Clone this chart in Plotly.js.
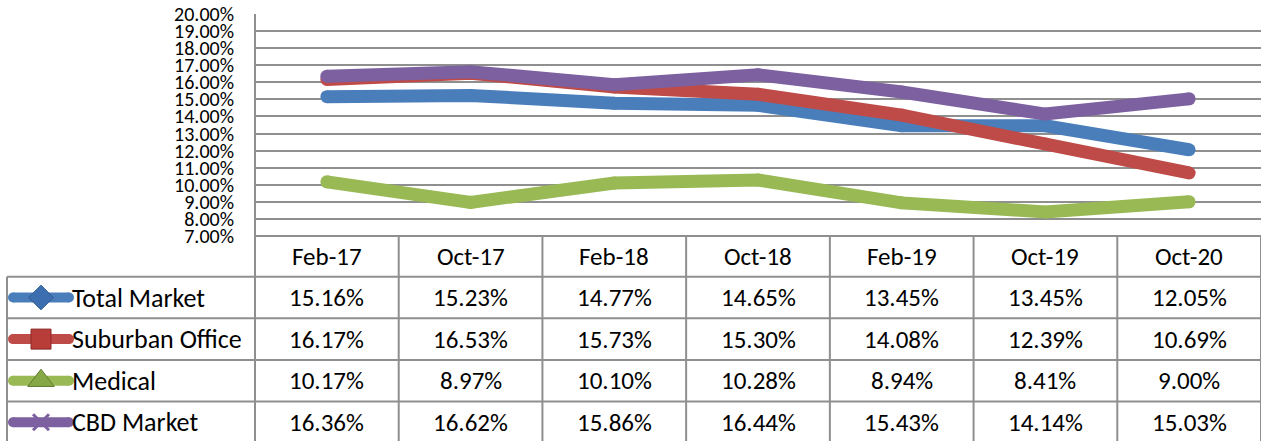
<!DOCTYPE html>
<html>
<head>
<meta charset="utf-8">
<script src="https://cdn.plot.ly/plotly-3.0.1.min.js"></script>
<style>
  html, body { margin: 0; padding: 0; background: #fff; }
  #chart { width: 1266px; height: 441px; }
</style>
</head>
<body>
<div id="chart"></div>
<script>
// ---- Data ----
const categories = ['Feb-17', 'Oct-17', 'Feb-18', 'Oct-18', 'Feb-19', 'Oct-19', 'Oct-20'];
const seriesNames = ['Total Market', 'Suburban Office', 'Medical', 'CBD Market'];
const totalMarket    = [15.16, 15.23, 14.77, 14.65, 13.45, 13.45, 12.05];
const suburbanOffice = [16.17, 16.53, 15.73, 15.30, 14.08, 12.39, 10.69];
const medical        = [10.17, 8.97, 10.10, 10.28, 8.94, 8.41, 9.00];
const cbdMarket      = [16.36, 16.62, 15.86, 16.44, 15.43, 14.14, 15.03];
const yTickValues = [7, 8, 9, 10, 11, 12, 13, 14, 15, 16, 17, 18, 19, 20];

// ---- Styling ----
const W = 1266, H = 441;
const FONT = 'Carlito, Calibri, Lato, sans-serif';
const seriesValues = [totalMarket, suburbanOffice, medical, cbdMarket];
const colors = ['#4a7ebb', '#be4b48', '#98b954', '#7d60a0'];
const markerColors = ['#3d6fb0', '#b83c38', '#86a846', '#7d60a0'];
const markerLine = ['#2f5d91', '#8c2b28', '#5f7a2d', '#5e4680'];
const markerSymbols = ['diamond', 'square', 'triangle-up', 'x-thin'];
const markerSizes = [19, 20, 23, 16];
const gridColor = '#8f8f8f';

// geometry (pixels)
const plotLeft = 255, plotRight = 1261, plotTop = 14, plotBottom = 236;
const tableLeft = 7;
const rowH = 41.6;
const headerBottom = plotBottom + 40.7;
const rowCenters = seriesNames.map((_, i) => headerBottom + rowH * (i + 0.5));
const headerCenter = (plotBottom + headerBottom) / 2;

const traces = [];
seriesValues.forEach((vals, i) => {
  traces.push({
    type: 'scatter', mode: 'lines+markers',
    x: categories.map((_, k) => k),
    y: vals,
    name: seriesNames[i],
    line: { color: colors[i], width: 13 },
    marker: { color: colors[i], size: 13, line: { width: 0 } },
    xaxis: 'x', yaxis: 'y', showlegend: false, hoverinfo: 'skip'
  });
});

// legend keys inside the table (pixel axes x2/y2)
seriesNames.forEach((n, i) => {
  traces.push({
    type: 'scatter', mode: 'lines',
    x: [13, 69], y: [rowCenters[i], rowCenters[i]],
    line: { color: colors[i], width: 10 },
    xaxis: 'x2', yaxis: 'y2', showlegend: false, hoverinfo: 'skip'
  });
  traces.push({
    type: 'scatter', mode: 'markers',
    x: [13, 69], y: [rowCenters[i], rowCenters[i]],
    marker: { color: colors[i], size: 10 },
    xaxis: 'x2', yaxis: 'y2', showlegend: false, hoverinfo: 'skip'
  });
  traces.push({
    type: 'scatter', mode: 'markers',
    x: [41], y: [rowCenters[i]],
    marker: {
      symbol: markerSymbols[i], size: markerSizes[i], color: markerColors[i],
      line: { color: i === 3 ? markerColors[i] : markerLine[i], width: i === 3 ? 3 : 1 }
    },
    xaxis: 'x2', yaxis: 'y2', showlegend: false, hoverinfo: 'skip'
  });
});

const lineStyle = { color: gridColor, width: 2 };
const shapes = [];
// horizontal table lines
shapes.push({ type: 'line', xref: 'x2', yref: 'y2', x0: plotLeft, x1: plotRight, y0: plotBottom, y1: plotBottom, line: lineStyle });
for (let r = 0; r <= seriesNames.length - 1; r++) {
  const y = headerBottom + rowH * r;
  shapes.push({ type: 'line', xref: 'x2', yref: 'y2', x0: tableLeft, x1: plotRight, y0: y, y1: y, line: lineStyle });
}
// vertical table lines
shapes.push({ type: 'line', xref: 'x2', yref: 'y2', x0: tableLeft, x1: tableLeft, y0: headerBottom, y1: H + 5, line: lineStyle });
shapes.push({ type: 'line', xref: 'x2', yref: 'y2', x0: plotLeft, x1: plotLeft, y0: plotTop, y1: H + 5, line: lineStyle });
for (let k = 0; k < categories.length; k++) {
  shapes.push({ type: 'line', xref: 'x', yref: 'y2', x0: k + 0.5, x1: k + 0.5, y0: plotBottom, y1: H + 5, line: lineStyle });
}

const annotations = [];
const tableFont = { family: FONT, size: 25, color: '#000' };
const labelFont = { family: FONT, size: 26, color: '#000' };
categories.forEach((c, k) => {
  annotations.push({ xref: 'x', yref: 'y2', x: k, y: headerCenter, text: c, showarrow: false, font: tableFont, xanchor: 'center', yanchor: 'middle' });
});
seriesNames.forEach((n, i) => {
  annotations.push({ xref: 'x2', yref: 'y2', x: 70, y: rowCenters[i], text: n, showarrow: false, font: labelFont, xanchor: 'left', yanchor: 'middle' });
  seriesValues[i].forEach((v, k) => {
    annotations.push({ xref: 'x', yref: 'y2', x: k, y: rowCenters[i], text: v.toFixed(2) + '%', showarrow: false, font: tableFont, xanchor: 'center', yanchor: 'middle' });
  });
});

const layout = {
  width: W, height: H,
  margin: { l: 0, r: 0, t: 0, b: 0, pad: 0 },
  paper_bgcolor: '#fff', plot_bgcolor: 'rgba(0,0,0,0)',
  showlegend: false,
  xaxis: {
    domain: [plotLeft / W, plotRight / W],
    range: [-0.5, categories.length - 0.5],
    showgrid: false, zeroline: false, showticklabels: false, ticks: '', showline: false,
    anchor: 'y', fixedrange: true
  },
  yaxis: {
    domain: [(H - plotBottom) / H, (H - plotTop) / H],
    range: [yTickValues[0], yTickValues[yTickValues.length - 1]],
    tickvals: yTickValues,
    ticktext: yTickValues.map(v => v.toFixed(2) + '%'),
    showgrid: true, gridcolor: gridColor, gridwidth: 2,
    zeroline: false, showline: false, ticks: '',
    ticklabelstandoff: 20,
    tickfont: { family: FONT, size: 20, color: '#000' },
    anchor: 'x', fixedrange: true
  },
  xaxis2: { domain: [0, 1], range: [0, W], visible: false, anchor: 'y2', fixedrange: true },
  yaxis2: { domain: [0, 1], range: [H, 0], visible: false, anchor: 'x2', fixedrange: true },
  shapes: shapes,
  annotations: annotations
};

Plotly.newPlot('chart', traces, layout, { displayModeBar: false, staticPlot: true });
</script>
</body>
</html>
